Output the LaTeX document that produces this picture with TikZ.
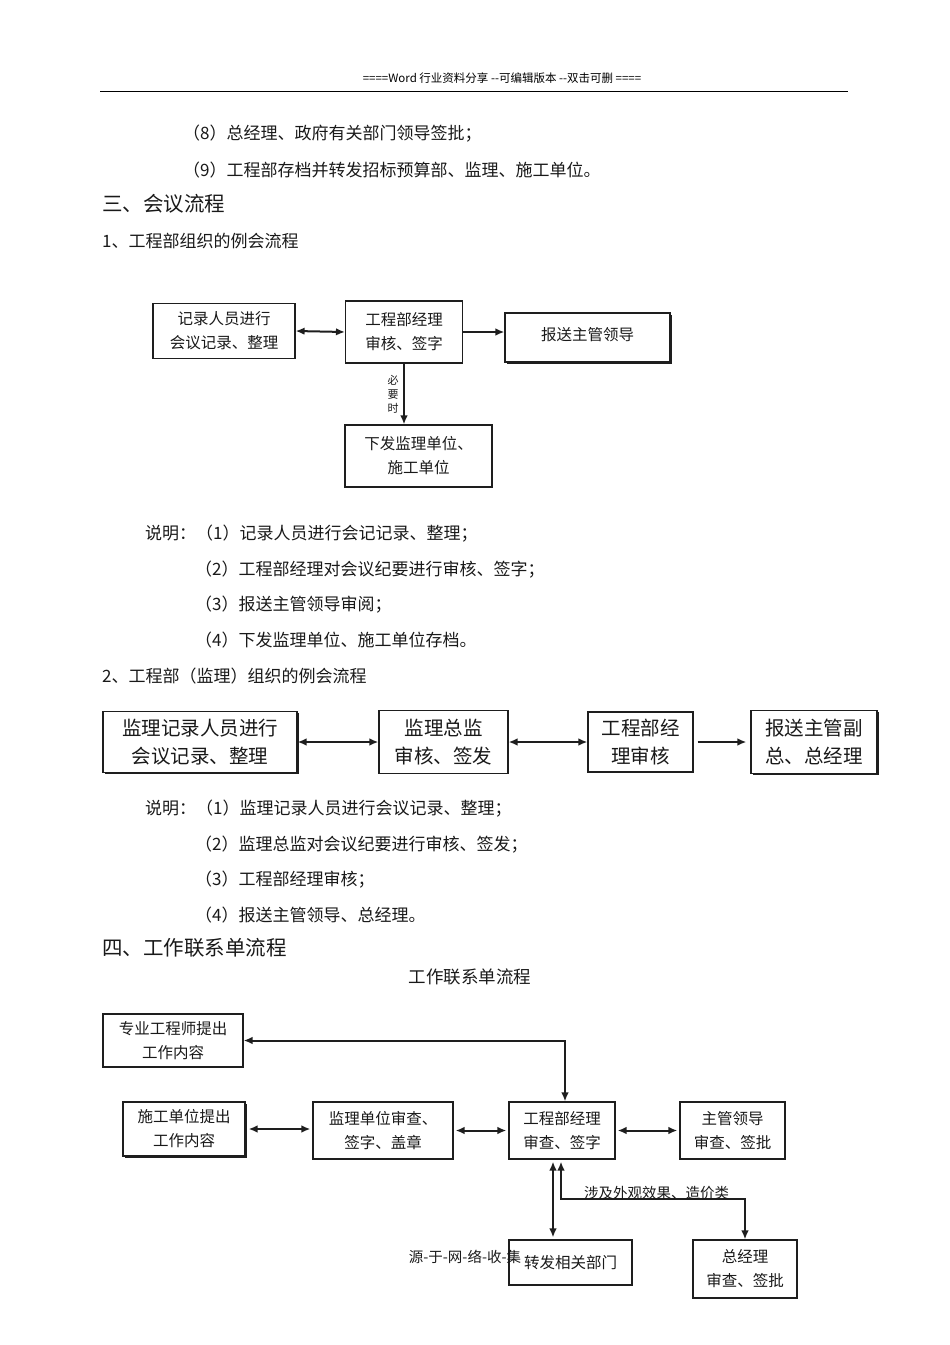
\documentclass[tikz,border=0pt]{standalone}
\usepackage{fontspec}
\setmainfont{Noto Sans CJK SC}
\usepackage{tikz}
\usetikzlibrary{calc}
\usetikzlibrary{arrows.meta}
\usetikzlibrary{positioning}
\usetikzlibrary{shadows}
\definecolor{inkline}{RGB}{30, 30, 30}
\definecolor{inktext}{RGB}{25, 25, 25}

\tikzset{
  flowbox/.style={draw=inkline, line width=1.1pt, fill=white, align=center, inner sep=0pt,
                  text=inktext, font=\fontsize{15.5}{24}\selectfont},
  bigbox/.style={flowbox, font=\fontsize{19.5}{28}\selectfont},
  shadowed/.style={drop shadow={shadow xshift=1.6pt, shadow yshift=-1.6pt, opacity=1, fill=inkline}},
  flowline/.style={line width=2pt, draw=inkline, >={Latex[length=9pt,width=7.5pt]}},
  bodytext/.style={anchor=west, inner sep=0pt, text=inktext, font=\fontsize{17}{20}\selectfont},
  headtext/.style={anchor=west, inner sep=0pt, text=inktext, font=\fontsize{20.5}{24}\selectfont},
}

\begin{document}
\begin{tikzpicture}[x=1pt, y=-1pt]
            \useasboundingbox (0,0) rectangle (950,1345);
            \node[inner sep=0pt, font=\fontsize{11.5}{14}\selectfont] (hdr) at (502, 78) {====Word 行业资料分享 -{}-可编辑版本 -{}-双击可删 ====};
            \draw[line width=0.9pt] (100, 91) -- (848, 91);

            \node[bodytext] (t8)  at (183, 134) {（8）总经理、政府有关部门领导签批；};
            \node[bodytext] (t9)  at (183, 170) {（9）工程部存档并转发招标预算部、监理、施工单位。};
            \node[headtext] (h3)  at (102, 204) {三、会议流程};
            \node[bodytext] (h31) at (102, 241) {1、工程部组织的例会流程};

            \node[flowbox, minimum width=142pt, minimum height=55pt] (rec)   at (224.0, 331.0) {记录人员进行\\会议记录、整理};
            \node[flowbox, minimum width=117pt, minimum height=62pt] (mgr)   at (404.0, 332.0) {工程部经理\\审核、签字};
            \node[flowbox, shadowed, minimum width=165pt, minimum height=49pt] (lead)  at (587.5, 337.5) {\raisebox{7pt}{报送主管领导}};
            \node[flowbox, minimum width=147pt, minimum height=62pt] (issue) at (418.5, 456.0) {下发监理单位、\\施工单位};
            \node[align=center, inner sep=0pt, text=inktext, font=\fontsize{11}{14}\selectfont] (need) at (393, 394) {必\\要\\时};

            \draw[flowline, <->] (rec.east) -- (mgr.west);
            \draw[flowline, ->]  (mgr.east) -- (mgr.east -| lead.west);
            \draw[flowline, ->]  (mgr.south) -- (mgr.south |- issue.north);

            \node[bodytext] (n11) at (145, 534) {说明：（1）记录人员进行会记记录、整理；};
            \node[bodytext] (n12) at (195, 570) {（2）工程部经理对会议纪要进行审核、签字；};
            \node[bodytext] (n13) at (195, 605) {（3）报送主管领导审阅；};
            \node[bodytext] (n14) at (195, 640) {（4）下发监理单位、施工单位存档。};

            \node[bodytext] (h32) at (102, 676) {2、工程部（监理）组织的例会流程};

            \node[bigbox, shadowed, minimum width=194pt, minimum height=61pt] (srec)  at (200.0, 742) {监理记录人员进行\\会议记录、整理};
            \node[bigbox, minimum width=129pt, minimum height=63pt] (chief) at (443.5, 742) {监理总监\\审核、签发};
            \node[bigbox, minimum width=105pt, minimum height=60pt] (pmgr)  at (640.5, 742) {工程部经\\理审核};
            \node[bigbox, shadowed, minimum width=126pt, minimum height=63pt] (vp)    at (814.0, 742) {报送主管副\\总、总经理};

            \draw[flowline, <->] (srec.east) -- (chief.west);
            \draw[flowline, <->] (chief.east) -- (pmgr.west);
            \draw[flowline, ->, shorten <=4pt, shorten >=4pt] (pmgr.east) -- (vp.west);

            \node[bodytext] (n21) at (145, 809) {说明：（1）监理记录人员进行会议记录、整理；};
            \node[bodytext] (n22) at (195, 845) {（2）监理总监对会议纪要进行审核、签发；};
            \node[bodytext] (n23) at (195, 880) {（3）工程部经理审核；};
            \node[bodytext] (n24) at (195, 915) {（4）报送主管领导、总经理。};

            \node[headtext] (h4) at (102, 948) {四、工作联系单流程};
            \node[inner sep=0pt, text=inktext, font=\fontsize{17.5}{20}\selectfont] (title) at (470, 977) {工作联系单流程};

            \node[flowbox, minimum width=140pt, minimum height=53pt] (eng)   at (173.0, 1040.5) {专业工程师提出\\工作内容};
            \node[flowbox, shadowed, minimum width=122pt, minimum height=54pt] (cons)  at (184.0, 1129.0) {施工单位提出\\工作内容};
            \node[flowbox, minimum width=140pt, minimum height=57pt] (sup)   at (383.0, 1130.5) {监理单位审查、\\签字、盖章};
            \node[flowbox, minimum width=106pt, minimum height=57pt] (emgr)  at (562.0, 1130.5) {工程部经理\\审查、签字};
            \node[flowbox, minimum width=105pt, minimum height=57pt] (dlead) at (732.5, 1130.5) {主管领导\\审查、签批};
            \node[flowbox, minimum width=123pt, minimum height=45pt] (fwd)   at (570.5, 1262.5) {\raisebox{2pt}{转发相关部门}};
            \node[flowbox, minimum width=104pt, minimum height=58pt] (gm)    at (745.0, 1269.0) {总经理\\审查、签批};
            \node[inner sep=0pt, text=inktext, font=\fontsize{14.5}{17}\selectfont] (src) at (465, 1257) {源-于-网-络-收-集};

            \draw[flowline, <->] (eng.east) -| ([xshift=3pt]emgr.north);
            \draw[flowline, <->, shorten <=3pt, shorten >=2pt] (cons.east) -- (cons.east -| sup.west);
            \draw[flowline, <->, shorten <=2pt, shorten >=2pt] (sup.east) -- (emgr.west);
            \draw[flowline, <->, shorten <=2pt, shorten >=2pt] (emgr.east) -- (dlead.west);
            \draw[flowline, <->, shorten <=2pt, shorten >=2pt] ([xshift=-9pt]emgr.south) -- ([xshift=-9pt]emgr.south |- fwd.north);
            \draw[flowline, <->, shorten <=2pt] ([xshift=-1pt]emgr.south) -- ++(0,39) -| (gm.north)
                 node[pos=0.26, above=-3pt, inner sep=1pt, text=inktext, font=\fontsize{14.5}{17}\selectfont] (cost) {涉及外观效果、造价类};
\end{tikzpicture}
\end{document}
